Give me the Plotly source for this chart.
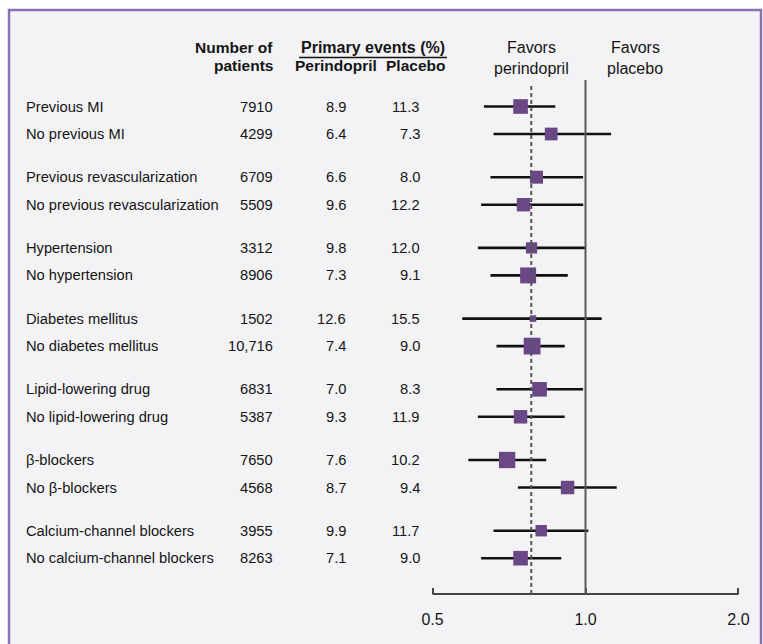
import plotly.graph_objects as go

# ---------------- data ----------------
subgroups = [
    "Previous MI", "No previous MI",
    "Previous revascularization", "No previous revascularization",
    "Hypertension", "No hypertension",
    "Diabetes mellitus", "No diabetes mellitus",
    "Lipid-lowering drug", "No lipid-lowering drug",
    "β-blockers", "No β-blockers",
    "Calcium-channel blockers", "No calcium-channel blockers",
]
n_patients = [7910, 4299, 6709, 5509, 3312, 8906, 1502, 10716,
              6831, 5387, 7650, 4568, 3955, 8263]
perindopril_pct = ["8.9", "6.4", "6.6", "9.6", "9.8", "7.3", "12.6", "7.4",
                   "7.0", "9.3", "7.6", "8.7", "9.9", "7.1"]
placebo_pct = ["11.3", "7.3", "8.0", "12.2", "12.0", "9.1", "15.5", "9.0",
               "8.3", "11.9", "10.2", "9.4", "11.7", "9.0"]
hazard_ratio = [0.745, 0.856, 0.801, 0.755, 0.783, 0.771, 0.788, 0.785,
                0.812, 0.745, 0.701, 0.922, 0.818, 0.745]
ci_low = [0.631, 0.659, 0.650, 0.623, 0.614, 0.650, 0.572, 0.668,
          0.668, 0.614, 0.588, 0.736, 0.659, 0.623]
ci_high = [0.872, 1.123, 0.989, 0.990, 1.002, 0.923, 1.076, 0.910,
           0.989, 0.910, 0.837, 1.152, 1.013, 0.896]
box_weight = [87, 76, 77, 80, 67, 95, 39, 100, 87, 80, 97, 80, 68, 87]  # relative
overall_hr = 0.782
tick_values = [0.5, 1.0, 2.0]
tick_labels = ["0.5", "1.0", "2.0"]

# ---------------- layout constants ----------------
W, H = 763, 644
X_ONE, PX_PER_DECADE = 585.5, 508.0          # pixel of HR = 1, pixels per decade
x_range = [(0 - X_ONE) / PX_PER_DECADE, (W - X_ONE) / PX_PER_DECADE]
ROW0, GROUP_STEP, PAIR_STEP = 106.5, 70.7, 27.5
AXIS_Y = 594
MAX_BOX = 16.8

FONT = "Liberation Sans, Arial, sans-serif"
TXT = "#151515"
PURPLE = "#6a4785"

row_y = [ROW0 + (i // 2) * GROUP_STEP + (i % 2) * PAIR_STEP for i in range(len(subgroups))]

fig = go.Figure()

# confidence-interval lines
ci_x, ci_y = [], []
for lo, hi, y in zip(ci_low, ci_high, row_y):
    ci_x += [lo, hi, None]
    ci_y += [y, y, None]
fig.add_trace(go.Scatter(x=ci_x, y=ci_y, mode="lines",
                         line=dict(color="#111111", width=2.6),
                         hoverinfo="skip", showlegend=False))

# point estimates
fig.add_trace(go.Scatter(x=hazard_ratio, y=row_y, mode="markers",
                         marker=dict(symbol="square", color=PURPLE, opacity=1,
                                     size=[MAX_BOX * w / 100 for w in box_weight],
                                     line=dict(width=0)),
                         showlegend=False, text=subgroups))

shapes = [
    # frame
    dict(type="rect", xref="paper", yref="paper", x0=9 / W, x1=761 / W,
         y0=-0.1, y1=1 - 10 / H, fillcolor="#f3f3f6",
         line=dict(color="#8d6fb3", width=2.5), layer="below"),
    # x axis baseline
    dict(type="line", xref="x", yref="y", x0=tick_values[0], x1=tick_values[-1],
         y0=AXIS_Y, y1=AXIS_Y, line=dict(color="#444444", width=2)),
    # line of no effect
    dict(type="line", xref="x", yref="y", x0=1, x1=1, y0=80, y1=AXIS_Y,
         line=dict(color="#5a5a5a", width=2)),
    # overall effect
    dict(type="line", xref="x", yref="y", x0=overall_hr, x1=overall_hr, y0=86, y1=AXIS_Y,
         line=dict(color="#555555", width=2, dash="4px,3px")),
    # header underline
    dict(type="line", xref="paper", yref="y", x0=299 / W, x1=447 / W, y0=57.5, y1=57.5,
         line=dict(color="#111111", width=1.5)),
]

ann = []


def add_text(x, y, s, anchor="left", size=14.7, bold=False):
    ann.append(dict(xref="paper", yref="y", x=x / W, y=y, text=f"<b>{s}</b>" if bold else s,
                    showarrow=False, xanchor=anchor, yanchor="middle",
                    font=dict(family=FONT, size=size, color=TXT)))


# headers
add_text(275, 47, "Number of", "right", 15.5, True)
add_text(275, 65, "patients", "right", 15.5, True)
add_text(373, 47, "Primary events (%)", "center", 16, True)
add_text(379, 65, "Perindopril", "right", 15.5, True)
add_text(447, 65, "Placebo", "right", 15.5, True)
add_text(531, 47, "Favors", "center", 16)
add_text(531, 68, "perindopril", "center", 16)
add_text(635, 47, "Favors", "center", 16)
add_text(635, 68, "placebo", "center", 16)

for i, y in enumerate(row_y):
    n = n_patients[i]
    add_text(24, y, subgroups[i], "left")
    add_text(275, y, f"{n:,}" if n >= 10000 else str(n), "right")
    add_text(348, y, perindopril_pct[i], "right")
    add_text(422, y, placebo_pct[i], "right")

fig.update_layout(
    width=W, height=H,
    margin=dict(l=0, r=0, t=0, b=0),
    paper_bgcolor="white", plot_bgcolor="rgba(0,0,0,0)",
    shapes=shapes, annotations=ann, showlegend=False,
    xaxis=dict(type="log", range=x_range, domain=[0, 1], anchor="free",
               position=1 - AXIS_Y / H, tickvals=tick_values, ticktext=tick_labels,
               ticks="inside", ticklen=6, tickwidth=2, tickcolor="#444444",
               showgrid=False, zeroline=False, showline=False,
               ticklabelstandoff=14,
               tickfont=dict(family=FONT, size=16, color=TXT), fixedrange=True),
    yaxis=dict(range=[H, 0], domain=[0, 1], visible=False, fixedrange=True),
)

fig.write_html("out.html", config={"displayModeBar": False, "staticPlot": True},
               post_script="document.body.style.margin='0px';")
